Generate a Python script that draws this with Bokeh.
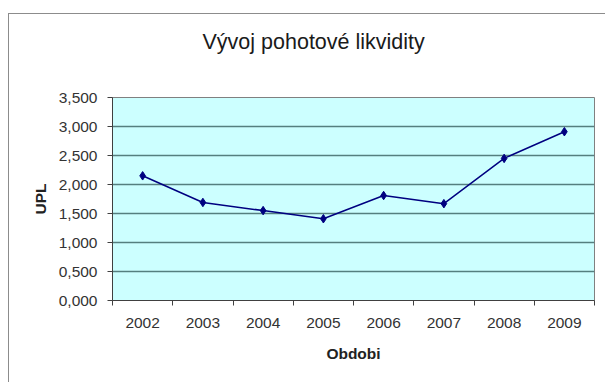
from bokeh.plotting import figure
from bokeh.models import Range1d, FixedTicker, CustomJSTickFormatter, LinearAxis, Title
from bokeh.embed import file_html
from bokeh.resources import INLINE

# Quick-ratio development by year
years = ["2002", "2003", "2004", "2005", "2006", "2007", "2008", "2009"]
upl = [2.15, 1.69, 1.55, 1.41, 1.81, 1.67, 2.45, 2.91]
y_ticks = [0.0, 0.5, 1.0, 1.5, 2.0, 2.5, 3.0, 3.5]

# categories sit in the middle of unit-wide slots
xs = [i + 0.5 for i in range(len(years))]

FONT = "Liberation Sans"

p = figure(
    width=597, height=369,
    x_range=Range1d(0, len(years)), y_range=Range1d(0, 3.5),
    output_backend="svg", toolbar_location=None,
    min_border_left=103, min_border_right=12,
    min_border_top=83, min_border_bottom=83,
    background_fill_color="#ccffff", border_fill_color="white",
    outline_line_color="#808080", outline_line_width=1,
)
p.title = None
p.styles = {
    "margin-left": "8px", "margin-top": "13px",
    "border-left": "1px solid #8c8c8c", "border-top": "1px solid #8c8c8c",
}

xa = p.below[0]
ya = p.left[0]

# blank axis above the frame: its (undrawn) tick length keeps the heading
# clear of the plot area
gap = LinearAxis(ticker=FixedTicker(ticks=[len(years) / 2], minor_ticks=[]),
                 axis_line_color=None, major_tick_out=44, major_tick_in=0,
                 major_tick_line_color=None, minor_tick_line_color=None,
                 major_label_standoff=0, major_label_text_color=None,
                 major_label_text_font_size="0px")
p.add_layout(gap, "above")

heading = Title(text="Vývoj pohotové likvidity", align="left", offset=90,
                standoff=0, vertical_align="bottom",
                text_font=FONT, text_font_size="21.5px",
                text_font_style="normal", text_color="#1a1a1a")
p.add_layout(heading, "above")

# x axis: labels at slot centres, tick marks at slot boundaries
xa.ticker = FixedTicker(ticks=xs, minor_ticks=list(range(len(years) + 1)))
xa.major_label_overrides = {x: y for x, y in zip(xs, years)}
xa.major_tick_out = 0
xa.major_tick_in = 0
xa.minor_tick_out = 5
xa.minor_tick_in = 0
xa.axis_label = "Obdobi"
xa.major_label_standoff = 12
xa.axis_label_standoff = 14

ya.ticker = FixedTicker(ticks=y_ticks, minor_ticks=[])
ya.formatter = CustomJSTickFormatter(code="return tick.toFixed(3).replace('.', ',');")
ya.major_tick_out = 5
ya.major_tick_in = 0
ya.axis_label = "UPL"
ya.major_label_standoff = 10
ya.axis_label_standoff = 7

for ax in (xa, ya):
    ax.axis_line_color = "#404040"
    ax.major_tick_line_color = "#404040"
    ax.minor_tick_line_color = "#404040"
    ax.major_label_text_font = FONT
    ax.major_label_text_font_size = "15.5px"
    ax.major_label_text_color = "#333333"
    ax.axis_label_text_font = FONT
    ax.axis_label_text_font_size = "15.5px"
    ax.axis_label_text_font_style = "bold"
    ax.axis_label_text_color = "#222222"

p.xgrid.grid_line_color = None
p.ygrid.ticker = FixedTicker(ticks=y_ticks)
p.ygrid.grid_line_color = "#557f7f"
p.ygrid.grid_line_width = 1.6

p.line(xs, upl, line_color="#000080", line_width=1.5)
p.scatter(xs, upl, marker="diamond", size=8.5, fill_color="#000080", line_color="#000080")

open("out.html", "w").write(file_html(p, INLINE))
